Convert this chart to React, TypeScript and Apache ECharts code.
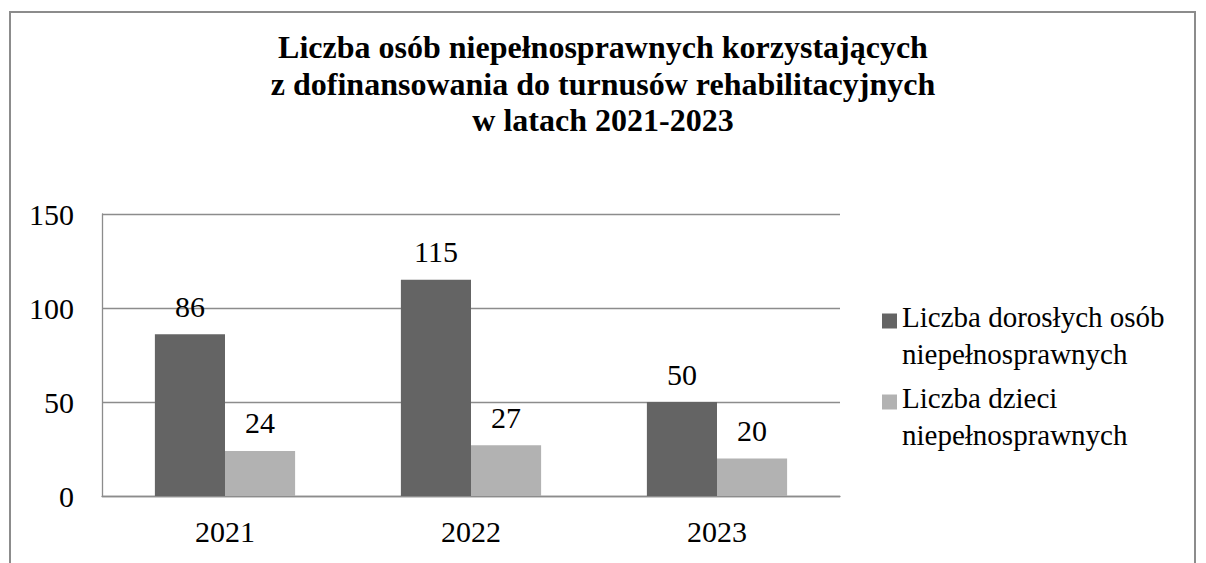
import React, { useEffect, useRef } from "react";
import * as echarts from "echarts";

const titleText =
  "Liczba osób niepełnosprawnych korzystających\nz dofinansowania do turnusów rehabilitacyjnych\nw latach 2021-2023";
const categories = ["2021", "2022", "2023"];
const seriesNames = [
  "Liczba dorosłych osób niepełnosprawnych",
  "Liczba dzieci niepełnosprawnych",
];
const adults = [86, 115, 50];
const children = [24, 27, 20];
const yTicks = { min: 0, max: 150, interval: 50 };

const FONT = "'Liberation Serif', 'Times New Roman', serif";

export default function App() {
  const ref = useRef<HTMLDivElement>(null);
  useEffect(() => {
    document.body.style.margin = "0";
    const chart = echarts.init(ref.current!, undefined, { renderer: "svg" });
    const fs = 30;
    const label = {
      show: true,
      position: "top",
      distance: 13,
      fontFamily: FONT,
      fontSize: fs,
      color: "#000",
    };
    chart.setOption({
      animation: false,
      backgroundColor: "#ffffff",
      textStyle: { fontFamily: FONT },
      title: {
        text: titleText,
        left: "center",
        top: 24,
        padding: [5, 5, 5, 11],
        textStyle: {
          fontFamily: FONT,
          fontSize: 32,
          fontWeight: "bold",
          color: "#000",
          lineHeight: 36.5,
        },
      },
      graphic: [
        {
          type: "rect",
          shape: { x: 10, y: 12, width: 1185, height: 600 },
          style: { fill: "none", stroke: "#8c8c8c", lineWidth: 2 },
          silent: true,
        },
      ],
      legend: {
        orient: "vertical",
        left: 877,
        top: 293,
        itemWidth: 15,
        itemHeight: 43,
        itemGap: 7,
        icon: "path://M0 0H15V15H0ZM0 43",
        formatter: (n: string) => n.replace(" niepełnosprawnych", "\nniepełnosprawnych"),
        textStyle: { fontFamily: FONT, fontSize: 29, color: "#000", lineHeight: 37 },
      },
      grid: { left: 102, right: 366, top: 214, bottom: 67 },
      xAxis: {
        type: "category",
        data: categories,
        axisTick: { show: false },
        axisLine: { lineStyle: { color: "#8c8c8c", width: 1.3 } },
        axisLabel: { fontFamily: FONT, fontSize: fs, color: "#000", margin: 20 },
      },
      yAxis: {
        type: "value",
        min: yTicks.min,
        max: yTicks.max,
        interval: yTicks.interval,
        axisLine: { show: true, lineStyle: { color: "#8c8c8c", width: 1.3 } },
        axisTick: { show: false },
        splitLine: { lineStyle: { color: "#8c8c8c", width: 1.3 } },
        axisLabel: { fontFamily: FONT, fontSize: fs, color: "#000", margin: 28 },
      },
      series: [
        {
          name: seriesNames[0],
          type: "bar",
          data: adults,
          barGap: "0%",
          barCategoryGap: "43%",
          itemStyle: { color: "#646464" },
          label,
        },
        {
          name: seriesNames[1],
          type: "bar",
          data: children,
          barGap: "0%",
          barCategoryGap: "43%",
          itemStyle: { color: "#b2b2b2" },
          label,
        },
      ],
    });
    return () => chart.dispose();
  }, []);
  return <div ref={ref} style={{ width: 1206, height: 563 }} />;
}
